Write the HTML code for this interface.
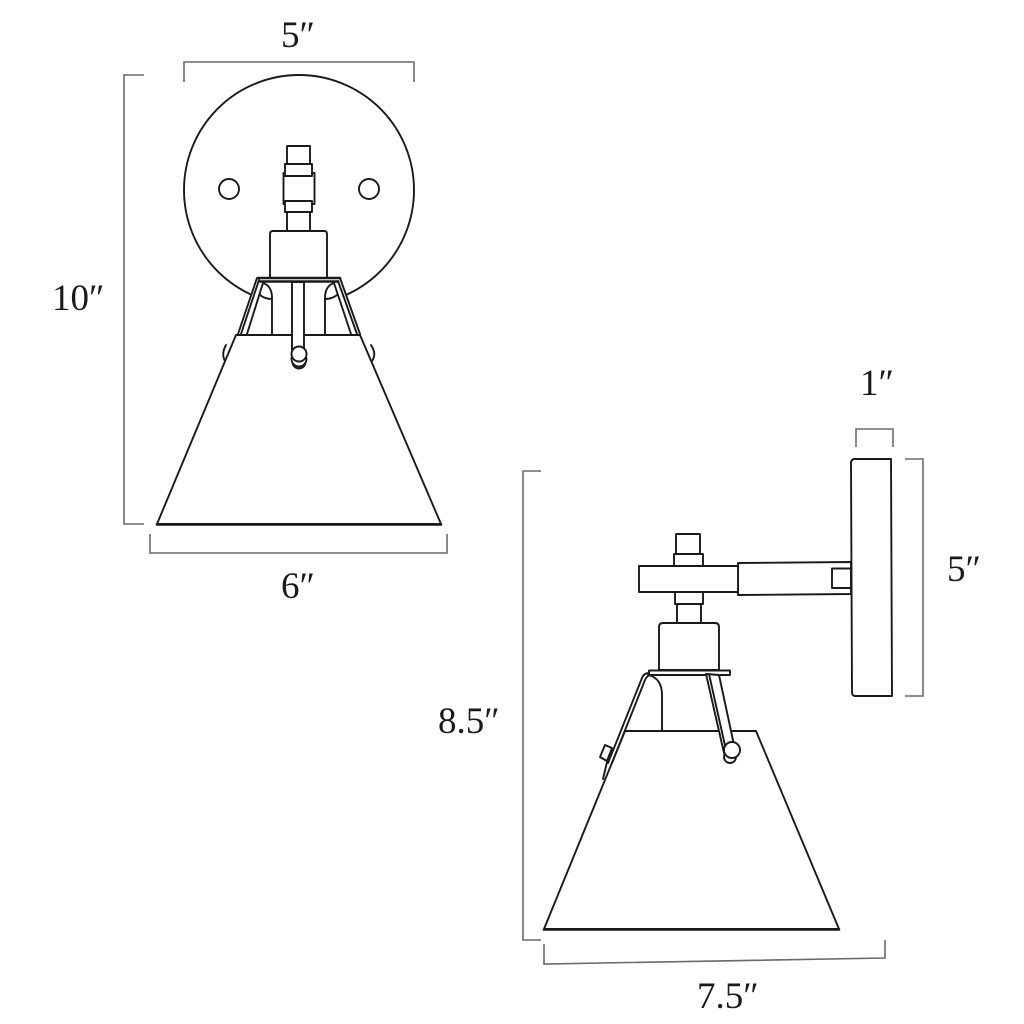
<!DOCTYPE html>
<html><head><meta charset="utf-8"><style>
html,body{margin:0;padding:0;background:#fff}
svg{display:block}
text{font-family:"Liberation Serif",serif;fill:#1a1a1a;font-size:37px}
.d{fill:none;stroke:#6a6a6a;stroke-width:1.6}
.k{fill:none;stroke:#1a1a1a;stroke-width:1.9;stroke-linejoin:round;stroke-linecap:round}
.w{fill:#fff;stroke:#1a1a1a;stroke-width:1.9;stroke-linejoin:round}
.b{stroke-width:2.6}
.f{fill:#fff;stroke:none}
</style></head><body>
<svg width="1024" height="1024" viewBox="0 0 1024 1024" xmlns="http://www.w3.org/2000/svg">
<!-- dimensions -->
<path class="d" d="M184 82V62H414V82"/>
<path class="d" d="M144 75H124V524H144"/>
<path class="d" d="M150 534V553H447V534"/>
<path class="d" d="M856 447V429H893V447"/>
<path class="d" d="M905 459H923V696H905"/>
<path class="d" d="M541 471H523V940H541"/>
<path class="d" d="M544 944V964L885 958V940"/>
<text x="281" y="47">5″</text>
<text x="52" y="310">10″</text>
<text x="281" y="598">6″</text>
<text x="860" y="395">1″</text>
<text x="947" y="581">5″</text>
<text x="438" y="733">8.5″</text>
<text x="697" y="1008">7.5″</text>

<!-- FRONT VIEW -->
<circle class="k" cx="299" cy="190" r="115"/>
<circle class="k" cx="229" cy="189" r="10"/>
<circle class="k" cx="369" cy="189" r="10"/>
<!-- stem -->
<rect class="w" x="287" y="146" width="23" height="18"/>
<rect class="w" x="287" y="212" width="23" height="20"/>
<rect class="w" x="283.500" y="173" width="31" height="31"/>
<rect class="w" x="285" y="164" width="27" height="12"/>
<rect class="w" x="285" y="201" width="27" height="11"/>
<!-- socket -->
<path class="w" d="M270 278V234Q270 231 273 231H324Q327 231 327 234V278Z"/>
<!-- clear the plate circle inside the bracket -->
<path class="f" d="M258 278H340L360 335H236Z"/>
<!-- shade -->
<path class="w" d="M236 335H360L441 524H157Z"/>
<path class="k b" d="M157 524.500H441"/>
<path class="k" d="M226 345Q221 354 225 361"/>
<path class="k" d="M371 345Q377 354 372 361"/>
<!-- inner neck -->
<path class="k" d="M263 283Q272 286 272 298V335"/>
<path class="k" d="M334 283Q325 286 325 298V335"/>
<path class="k" d="M260 295Q265 299 272 299"/>
<path class="k" d="M337 295Q332 299 325 299"/>
<!-- bracket -->
<path class="k b" d="M258 278H340"/>
<path class="k b" d="M260 281.500H338"/>
<path class="k" d="M257 278L238 334"/>
<path class="k" d="M259 280L241 334"/>
<path class="k" d="M263 283L247 334"/>
<path class="k" d="M340 278L360 334"/>
<path class="k" d="M338 281L357 334"/>
<path class="k" d="M334 283L351 334"/>
<!-- screw -->
<path class="w" d="M292 282H304V350H292Z"/>
<circle class="w" cx="299" cy="362" r="6.500"/>
<circle class="w" cx="299" cy="359" r="7.500"/>
<circle class="w" cx="299" cy="354" r="7.500"/>

<!-- SIDE VIEW -->
<path class="w" d="M851 463Q851 459 855 459H891L892 696H855Q852 696 852 692Z"/>
<path class="w" d="M738 563L851 562V594L738 595Z"/>
<path class="k" d="M832 568.500H851V588H832Z"/>
<rect class="w" x="676" y="534" width="24" height="20"/>
<rect class="w" x="674" y="554" width="29" height="12"/>
<rect class="w" x="675" y="592" width="28" height="12"/>
<rect class="w" x="677" y="604" width="24" height="19"/>
<path class="w" d="M639 566H738V592H639Z"/>
<path class="w" d="M659 670V627Q659 623 663 623H715Q719 623 719 627V670Z"/>
<!-- shade -->
<path class="w" d="M625 731H756L839 929H544Z"/>
<path class="k b" d="M544 929.500H839"/>
<!-- neck -->
<path class="k" d="M648 675Q662 678 662 695V731"/>
<!-- bracket -->
<path class="w" d="M649 670.500H730V675H649Z"/>
<path class="k" d="M649 673Q644 673 642 678L608 763"/>
<path class="k" d="M649 675.500Q647 676 645 680L612 763"/>
<path class="w" d="M600 757L605 745L612 748L607 761Z"/>
<path class="k" d="M607 762L603 779"/>
<path class="w" d="M706 674L719 675L734 745L724 753Z"/>
<path class="k" d="M709 674L726 750"/>
<circle class="w" cx="730" cy="757" r="6"/>
<circle class="w" cx="732" cy="750" r="8"/>
</svg>
</body></html>
